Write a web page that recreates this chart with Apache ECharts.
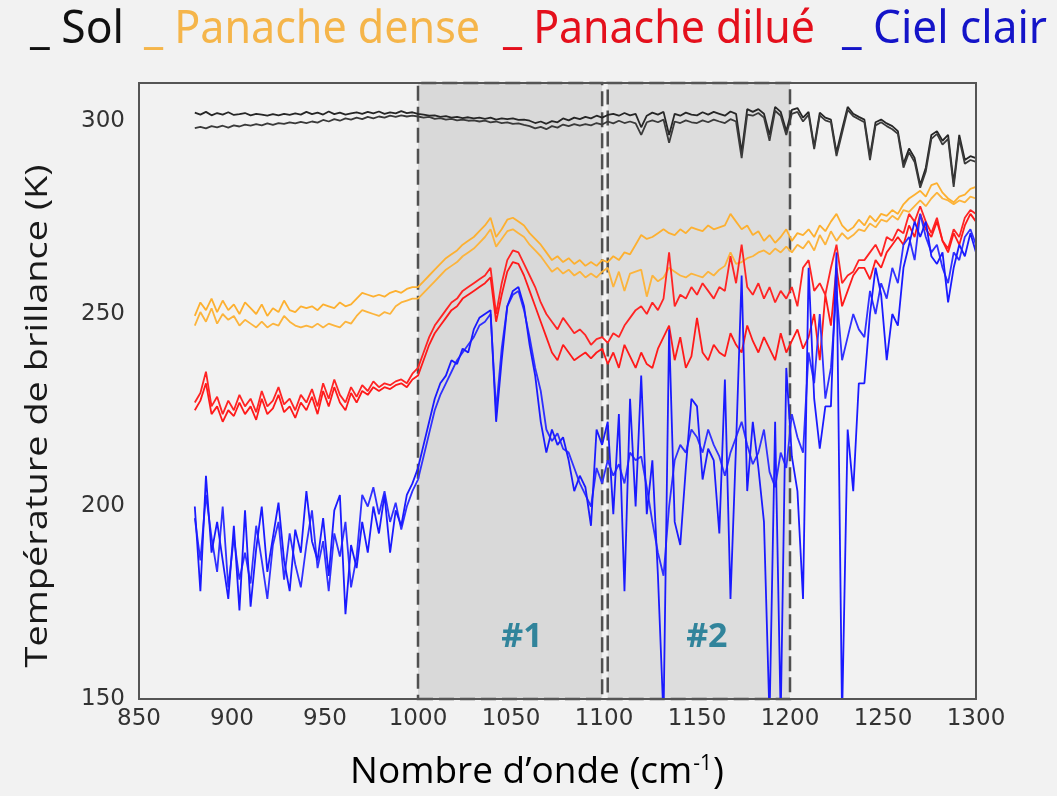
<!DOCTYPE html>
<html><head><meta charset="utf-8">
<script src="https://cdn.jsdelivr.net/npm/echarts@6/dist/echarts.min.js"></script>
<style>html,body{margin:0;padding:0;background:#f2f2f2;}
#wrap{position:relative;width:1057px;height:796px;}
#wrap div{position:absolute;left:0;top:0;width:1057px;height:796px;}
.f{pointer-events:none;}</style>
</head><body><div id="wrap"><div id="c"></div><div id="f1" class="f"></div><div id="f2" class="f"></div><div id="f3" class="f"></div><div id="f4" class="f"></div></div>
<script>
// Wavenumber grid (cm-1): 880 .. 1300 step 3
const waveStart = 880, waveStep = 3, waveCount = 141;

const solA = [
302.3,301.8,302.5,301.6,302.2,301.8,302.4,301.7,301.9,302.2,
301.6,302,301.8,301.5,301.9,301.6,302,301.7,302.1,301.8,
302.5,301.9,302.3,301.8,302.6,301.9,302.3,301.8,302.1,302.4,
302,302.5,302.1,302.6,302,302.4,302.1,302.7,302.2,302.4,
302,301.8,301.5,301.6,301.2,301.4,301,301.2,300.9,301.1,
300.8,301,300.7,301,300.5,300.8,300.6,300.8,300.4,300.5,
300.2,299.6,300,299.4,300.1,299.8,300.8,300.3,301,300.6,
301.2,300.8,301.5,301,301.7,302,301.5,302.2,301.6,302,
298.5,301.5,302.3,301.8,302.5,296.5,302,301.5,302.3,301.8,
301.6,302.4,301.8,302.5,302,301.5,302.6,302,292,303.2,
302.5,303.2,302,296.5,303.8,302.5,297.5,303,303.5,301,
302.5,293.5,302.3,301,300.5,292,298,303.8,302,301.2,
300.5,291,299.8,300.5,299.5,298.8,297.5,289,293,290.5,
283.5,288,296.5,297.5,295,296.5,284,296.5,290,291,
290.5];
const solB = [
298.3,298.6,298.2,298.8,298.5,298.9,298.4,299,298.7,299.2,
298.9,299.3,299,299.5,299.1,299.6,299.4,299.8,299.5,299.9,
299.6,300,299.7,300.4,300,300.6,300.2,300.8,300.5,301,
300.6,301.2,300.8,301.3,301,301.5,301.2,301.6,301.3,301.5,
301.3,301,301.2,300.7,300.9,300.5,300.7,300.3,300.5,300.2,
300.3,300,300.2,299.8,300,299.6,299.8,299.4,299.5,299.1,
298.8,298.2,298.6,298,298.8,298.4,299.2,298.8,299.3,298.9,
299.3,299,299.6,299.2,300,299.5,300.2,299.6,300,299.5,
296.5,299.8,300.3,299.8,300.5,294.5,300,299.6,300.3,299.8,
299.6,300.3,299.8,300.5,300,299.6,300.6,300,290.5,301.8,
301.5,302.2,301,295,302.8,301.5,296.5,302,302.5,300,
301.8,292.8,301.6,300.3,299.8,291,297,303,301.4,300.6,
299.8,290,299,299.8,298.8,298,296.8,288,292,289.5,
282.8,287,295.5,296.8,294,295.5,283,295.5,289,290,
289.5];
const denseA = [
249.5,253,251,254,250.5,253.5,251,252.5,250,253,
251.5,250,252.5,249.5,251.5,250.5,253.5,251,250.5,252,
251.5,252,251,252.5,252,251.5,253,252,252.5,254,
255.5,255,254.5,255,254.5,255.5,256,255.5,256.5,257,
257,258.5,260,261.5,263,264.5,265.5,266.5,268,269,
270,271.5,273,275,270,272,274.5,275,274,273,
271,269.5,268,266,264,265,263.5,264.5,263,264,
262.5,263.5,262.5,264,263.5,265,264,266,265.5,268,
270.5,269.5,270,271,272,271,270.5,272,271,272.5,
272,271.5,273,272,272.5,273,276,274,272,273,
270.5,271.5,269,270.5,268.5,270,272,269,271,270.5,
272,270,273,271.5,274,276,273,271.5,272.5,274.5,
273,275.5,274,276,275.5,277,276,278.5,280,281,
282,280.5,283.5,284,281.5,280,279,280.5,281,282.5,
283];
const denseB = [
247,250.5,248,251.5,247.5,250,248.5,249.5,247,248.5,
247.5,246.5,248,246.5,247.5,247,249.5,248,247,246.5,
247,246.5,247.5,246.5,247.5,247,246.5,248,247.5,249.5,
251,250.5,250,249.5,250.5,250,252,253,253.5,254,
254,255.5,257,258.5,260,261.5,262.5,263.5,265,266,
267,268.5,270,272,267.5,269.5,271.5,272,271,270,
268,266.5,265,263,261,262,260.5,261.5,260,261,
259.5,260.5,259.5,261,262,257,261,256,260.5,261,
261.5,254.5,260,258.5,259.5,262,261,260,259.5,260.5,
260,259.5,261,260,261.5,262.5,266,263,263.5,264.5,
265,266,266.5,265.5,267,266,267.5,266,268,267,
269,266.5,270.5,268,271.5,269,271,269.5,270.5,272,
271.5,273.5,272.5,274.5,274,275.5,274.5,277,276.5,278,
279.5,278,280,281.5,280,279.5,278.5,279.5,279,280.5,
280];
const diluA = [
227,229.5,235,226,228.5,224,227.5,225,229,226,
228,224.5,230,226,227.5,231,226.5,228,225,229,
227,230.5,226,232,228,233,229,227,231,228.5,
231.5,230,232.5,231,232,231.5,232.5,233,232,234.5,
236,240,244,247,249,251,253,254,256,257,
258,259,260,262,250,258,264,266.5,266,263,
260,257,253,250,248,246,249,247,245,246,
244.5,242,243.5,244,242.5,245,244,247,249,251,
252,250,253,251,254,266,252,255,254,257,
255,258,256,254,257,256,265,258,268,257,
255,258,254,257,253,256,254,257,252,262,
264,256,258,255,262,268,258,260,261,264,
264,266,268,265,270,269,272,271,276,274,
278,274,271,275,269,267,272,270,275,277,
276];
const diluB = [
225,227.5,232,224,226,222,225,223.5,227,224,
226,222.5,228,224,225.5,229,224.5,226,223,227,
225,228.5,224,230,226,231,227,225,229.5,227,
230,229,231,230,231,230.5,231.5,232,231,233,
234,238,242,245,247,249,251,252,254,255,
256,257,258,259.5,248,255,261,263.5,263,260,
256,252,248,244,240,238,242,240,238,239,
240,238.5,240,241,237,240,236,242,239,236,
240,237,236,241,244,247,238,244,236,239,
249,240,238,242,240,239,245,242,240,247,
243,240,244,241,238,245,240,243,246,241,
244,250,238,255,247,262,252,256,260,262,
262,259,264,262,266,268,270,268,273,270,
276,272,270,274,269,266,271,268,273,276,
274];
const cielA = [
200,178,208,188,196,186,176,195,173,199,
174,189,200,183,192,201,186,178,194,188,
204,191,186,197,182,199,203,172,190,184,
196,188,200,193,203,188,199,195,203,206,
210,216,222,228,232,234,238,237,241,240,
246,249,250,251,222,238,252,256,257,252,
242,234,222,214,220,216,218,212,204,208,
205,195,220,216,222,198,224,178,228,200,
234,198,212,182,145,246,196,190,210,228,
226,207,215,212,193,233,176,216,260,204,
222,210,196,145,222,145,236,213,204,176,
262,228,215,226,226,266,145,220,204,232,
232,250,262,255,238,250,247,262,268,274,
270,274,265,263,266,253,262,268,265,271,
266];
const cielB = [
197,186,203,192,183,200,179,192,181,188,
180,195,186,176,190,196,181,193,185,179,
190,199,184,191,178,193,187,196,179,187,
203,200,205,198,204,196,201,194,200,204,
207,213,219,225,229,232,235,238,240,242,
244,247,248,250,225,241,252,255,256,251,
244,236,230,220,217,219,215,214,210,206,
203,200,210,206,212,208,211,206,214,212,
213,205,196,188,182,200,212,216,214,220,
218,214,220,216,213,208,214,218,222,216,
211,214,220,209,205,214,210,224,218,214,
240,232,250,228,236,256,238,244,250,246,
244,256,250,258,254,262,258,268,270,264,
276,270,266,268,262,258,266,264,270,272,
268];

const legendItems = [
  {text: '_ Sol', color: '#111111', left: 30, right: 124},
  {text: '_ Panache dense', color: '#f5b54a', left: 144, right: 480},
  {text: '_ Panache dilué', color: '#e4101c', left: 503, right: 815},
  {text: '_ Ciel clair', color: '#1414c8', left: 842, right: 1047}
];
const zones = [
  {from: 1000, to: 1099, label: '#1', fill: '#d9d9d9', dx: 12},
  {from: 1102, to: 1200, label: '#2', fill: '#dddddd', dx: 8}
];
const yTitle = 'Température de brillance (K)';
const xMin = 850, xMax = 1300, yMin = 150, yMax = 310;

const axisColor = '#555555';
const gridBox = {left: 139, right: 81, top: 83, bottom: 97};
const toPairs = arr => arr.map((v, i) => [waveStart + waveStep * i, v]);

const mctx = document.createElement('canvas').getContext('2d');
function textWidth(t, font){ mctx.font = font; return mctx.measureText(t).width; }

const legendFont = '46px "Liberation Sans Narrow", "Noto Sans", sans-serif';
const graphics = legendItems.map(it => ({
  type: 'text', x: it.left, y: 30,
  scaleX: (it.right - it.left) / textWidth(it.text, legendFont),
  style: {text: it.text, font: legendFont, fill: it.color, align: 'left', verticalAlign: 'middle'}
}));
const yFont = '31px "Open Sans", sans-serif';
graphics.push({
  type: 'text', x: 38, y: 416, rotation: Math.PI / 2,
  scaleX: 503 / textWidth(yTitle, yFont),
  style: {text: yTitle, font: yFont, fill: '#1a1a1a', align: 'center', verticalAlign: 'middle'}
});
graphics.push({
  type: 'text', x: 537, y: 772,
  style: {
    text: '{a|Nombre d’onde (cm}{s|-1}{a|)}', align: 'center', verticalAlign: 'middle',
    rich: {
      a: {fontFamily: '"Open Sans", sans-serif', fontSize: 37, color: '#1a1a1a'},
      s: {fontFamily: '"Open Sans", sans-serif', fontSize: 21, color: '#1a1a1a', verticalAlign: 'top', padding: [0, 1, 16, 1]}
    }
  }
});

function lineSeries(name, data, color){
  return {name, type: 'line', data: toPairs(data), showSymbol: false, symbol: 'none',
    lineStyle: {width: 1.8, color}, itemStyle: {color}, xAxisIndex: 0, yAxisIndex: 0, z: 2};
}
const labelFont = {fontFamily: '"DejaVu Sans", sans-serif', fontSize: 23, color: '#333'};

// ---- data layer: background, shaded zones, curves, texts, tick labels ----
const chart = echarts.init(document.getElementById('c'), null, {renderer: 'canvas'});
chart.setOption({
  backgroundColor: '#f2f2f2',
  animation: false,
  grid: gridBox,
  xAxis: {type: 'value', min: xMin, max: xMax, interval: 50, position: 'bottom',
    axisLine: {show: false}, axisTick: {show: false}, splitLine: {show: false},
    axisLabel: Object.assign({show: true, margin: 9, formatter: v => String(v)}, labelFont)},
  yAxis: {type: 'value', min: yMin, max: yMax, interval: 50, position: 'left',
    axisLine: {show: false}, axisTick: {show: false}, splitLine: {show: false},
    axisLabel: Object.assign({show: true, margin: 14, showMaxLabel: false,
      formatter: v => (v % 50 === 0 ? String(v) : '')}, labelFont)},
  graphic: graphics,
  series: [
    {type: 'line', data: [], silent: true,
     markArea: {silent: true,
       itemStyle: {borderType: [15, 6], borderColor: '#505050', borderWidth: 2.5},
       data: zones.map(z => [
         {xAxis: z.from, itemStyle: {color: z.fill},
          label: {show: true, position: 'insideBottom', distance: 46, offset: [z.dx, 0], formatter: z.label,
            fontFamily: '"Open Sans", sans-serif', fontWeight: 'bold', fontSize: 34, color: '#31849b'}},
         {xAxis: z.to}
       ])}},
    lineSeries('Sol', solA, '#262626'),
    lineSeries('Sol', solB, '#3a3a3a'),
    lineSeries('Panache dense', denseA, '#fdb030'),
    lineSeries('Panache dense', denseB, '#fcb43c'),
    lineSeries('Panache dilué', diluA, '#ff2424'),
    lineSeries('Panache dilué', diluB, '#ff1a1a'),
    lineSeries('Ciel clair', cielB, '#3030ff'),
    lineSeries('Ciel clair', cielA, '#1a1aff')
  ]
});

// ---- frame layers: each instance holds exactly one x axis and one y axis ----
const tickStyle = {color: axisColor, width: 2};
function xFrame(pos, visible){
  return {type: 'value', min: xMin, max: xMax, interval: 50, position: pos, show: visible,
    axisLine: {show: true, lineStyle: tickStyle}, splitLine: {show: false},
    axisTick: {show: true, inside: true, length: 30, lineStyle: tickStyle},
    minorTick: {show: true, splitNumber: 5, length: 15, lineStyle: tickStyle},
    axisLabel: {show: false}};
}
function yFrame(pos, step, len){
  return {type: 'value', min: yMin, max: yMax, interval: step, position: pos,
    axisLine: {show: true, lineStyle: tickStyle}, splitLine: {show: false},
    axisTick: {show: true, inside: true, length: len, lineStyle: tickStyle},
    axisLabel: {show: false}};
}
function makeFrame(id, xOpt, yOpt){
  const inst = echarts.init(document.getElementById(id));
  inst.setOption({
    animation: false,
    grid: gridBox,
    xAxis: xOpt,
    yAxis: yOpt,
    series: [{type: 'line', data: [[900, 200], [1000, 250]], lineStyle: {opacity: 0}, itemStyle: {opacity: 0}, silent: true}]
  });
}
makeFrame('f1', xFrame('bottom', true), yFrame('left', 10, 14));
makeFrame('f2', xFrame('top', true), yFrame('right', 10, 14));
makeFrame('f3', xFrame('bottom', false), yFrame('left', 50, 28));
makeFrame('f4', xFrame('top', false), yFrame('right', 50, 28));
</script></body></html>
